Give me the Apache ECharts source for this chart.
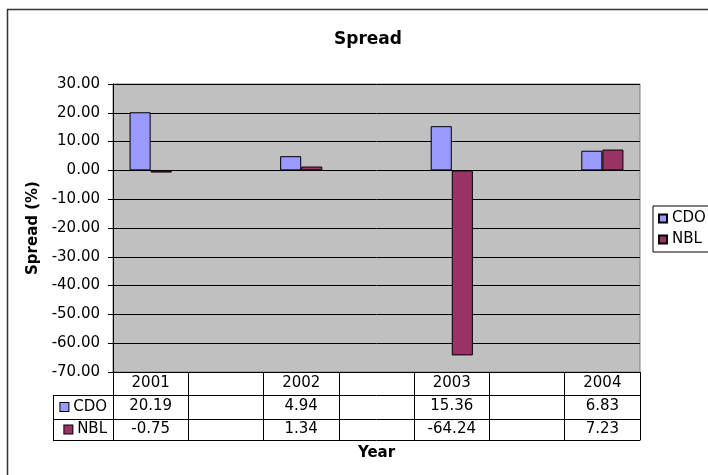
<!DOCTYPE html>
<html>
<head>
<meta charset="utf-8">
<script src="https://cdn.jsdelivr.net/npm/echarts@6/dist/echarts.min.js"></script>
<style>html,body{margin:0;padding:0;background:#fff}#c{width:708px;height:475px}</style>
</head>
<body>
<div id="c"></div>
<script>
var categories = ['2001', '', '2002', '', '2003', '', '2004'];
var cdoValues = [20.19, null, 4.94, null, 15.36, null, 6.83];
var nblValues = [-0.75, null, 1.34, null, -64.24, null, 7.23];
var seriesNames = ['CDO', 'NBL'];
var seriesColors = ['#9999ff', '#993366'];
var yMin = -70, yMax = 30, yStep = 10;

function fmt(v) { return v == null ? '' : v.toFixed(2); }

var FONT = 'DejaVu Sans, Verdana, sans-serif';
var G = { left: 113, top: 84, right: 68, bottom: 103 };
var H = 475;
var axisY0 = H - G.bottom;            // 372
var rows = [23, 24, 21];               // table row heights
var colLeft = 53;

var chart = echarts.init(document.getElementById('c'), null, { renderer: 'canvas' });

function tableAxis(data, offset, len, margin, lh, name, color) {
  var ax = {
    type: 'category',
    gridIndex: 0,
    position: 'bottom',
    offset: offset,
    data: data,
    axisLine: { show: true, onZero: false, lineStyle: { color: '#000', width: 1 } },
    axisTick: { show: len > 0, interval: 0, length: len, lineStyle: { color: '#000' } },
    axisLabel: { show: true, interval: 0, margin: margin, fontFamily: FONT, fontSize: 15, color: '#000', lineHeight: lh },
    splitLine: { show: false }
  };
  if (name) {
    ax.name = '{sq|} ' + name;
    ax.nameLocation = 'start';
    ax.nameGap = 6;
    ax.nameTextStyle = {
      fontFamily: FONT, fontSize: 15, color: '#000', verticalAlign: 'top', lineHeight: len,
      rich: { sq: { width: 8, height: 8, backgroundColor: color, borderColor: '#000', borderWidth: 1 } }
    };
  }
  return ax;
}

var xAxes = [
  tableAxis(categories, 0, rows[0], 4, 15),
  tableAxis(cdoValues.map(fmt), rows[0], rows[1], 4, 15, seriesNames[0], seriesColors[0]),
  tableAxis(nblValues.map(fmt), rows[0] + rows[1], rows[2], 3, 15, seriesNames[1], seriesColors[1]),
  {
    type: 'category', gridIndex: 0, position: 'bottom', offset: rows[0] + rows[1] + rows[2],
    data: categories,
    axisLine: { show: true, onZero: false, lineStyle: { color: '#000' } },
    axisTick: { show: false }, axisLabel: { show: false }, splitLine: { show: false },
    name: 'Year', nameLocation: 'middle', nameGap: 6,
    nameTextStyle: { fontFamily: FONT, fontSize: 15, fontWeight: 'bold', color: '#000', verticalAlign: 'top' }
  }
];

var tTop = axisY0 + rows[0];
var tBot = axisY0 + rows[0] + rows[1] + rows[2];

var option = {
  animation: false,
  backgroundColor: '#fff',
  title: {
    text: 'Spread',
    left: 363, textAlign: 'center', top: 26,
    textStyle: { fontFamily: FONT, fontSize: 17, fontWeight: 'bold', color: '#000' }
  },
  legend: {
    orient: 'vertical',
    left: 653, top: 206,
    data: seriesNames,
    icon: 'rect',
    itemWidth: 8, itemHeight: 8, itemGap: 4,
    padding: [4, 20, 4, 5],
    borderColor: '#000', borderWidth: 1, backgroundColor: '#fff',
    textStyle: { fontFamily: FONT, fontSize: 15, color: '#000', lineHeight: 17 }
  },
  grid: {
    left: G.left, top: G.top, right: G.right, bottom: G.bottom,
    show: true, backgroundColor: '#c0c0c0', borderColor: '#808080', borderWidth: 1
  },
  xAxis: xAxes,
  yAxis: {
    type: 'value', min: yMin, max: yMax, interval: yStep,
    name: 'Spread (%)', nameLocation: 'middle', nameGap: 72,
    nameTextStyle: { fontFamily: FONT, fontSize: 15, fontWeight: 'bold', color: '#000' },
    axisLine: { show: true, lineStyle: { color: '#000' } },
    axisTick: { show: true, length: 5, lineStyle: { color: '#000' } },
    axisLabel: { formatter: function (v) { return v.toFixed(2); }, margin: 13, fontFamily: FONT, fontSize: 15, color: '#000' },
    splitLine: { show: true, lineStyle: { color: '#000', width: 1 } }
  },
  series: [
    {
      name: seriesNames[0], type: 'bar', data: cdoValues,
      barGap: '0%', barCategoryGap: '44%',
      itemStyle: { color: seriesColors[0], borderColor: '#000', borderWidth: 1 }
    },
    {
      name: seriesNames[1], type: 'bar', data: nblValues,
      barGap: '0%', barCategoryGap: '44%',
      itemStyle: { color: seriesColors[1], borderColor: '#000', borderWidth: 1 }
    }
  ],
  graphic: [
    { type: 'rect', z: -10, silent: true,
      shape: { x: 7.5, y: 9.5, width: 760, height: 520 },
      style: { fill: 'none', stroke: '#333', lineWidth: 1.5 } },
    { type: 'line', silent: true, shape: { x1: colLeft + 0.5, y1: tTop, x2: colLeft + 0.5, y2: tBot + 0.5 }, style: { stroke: '#000', lineWidth: 1 } },
    { type: 'line', silent: true, shape: { x1: colLeft, y1: tTop + 0.5, x2: G.left, y2: tTop + 0.5 }, style: { stroke: '#000', lineWidth: 1 } },
    { type: 'line', silent: true, shape: { x1: colLeft, y1: tTop + rows[1] + 0.5, x2: G.left, y2: tTop + rows[1] + 0.5 }, style: { stroke: '#000', lineWidth: 1 } },
    { type: 'line', silent: true, shape: { x1: colLeft, y1: tBot + 0.5, x2: G.left, y2: tBot + 0.5 }, style: { stroke: '#000', lineWidth: 1 } }
  ]
};
chart.setOption(option);
</script>
</body>
</html>
